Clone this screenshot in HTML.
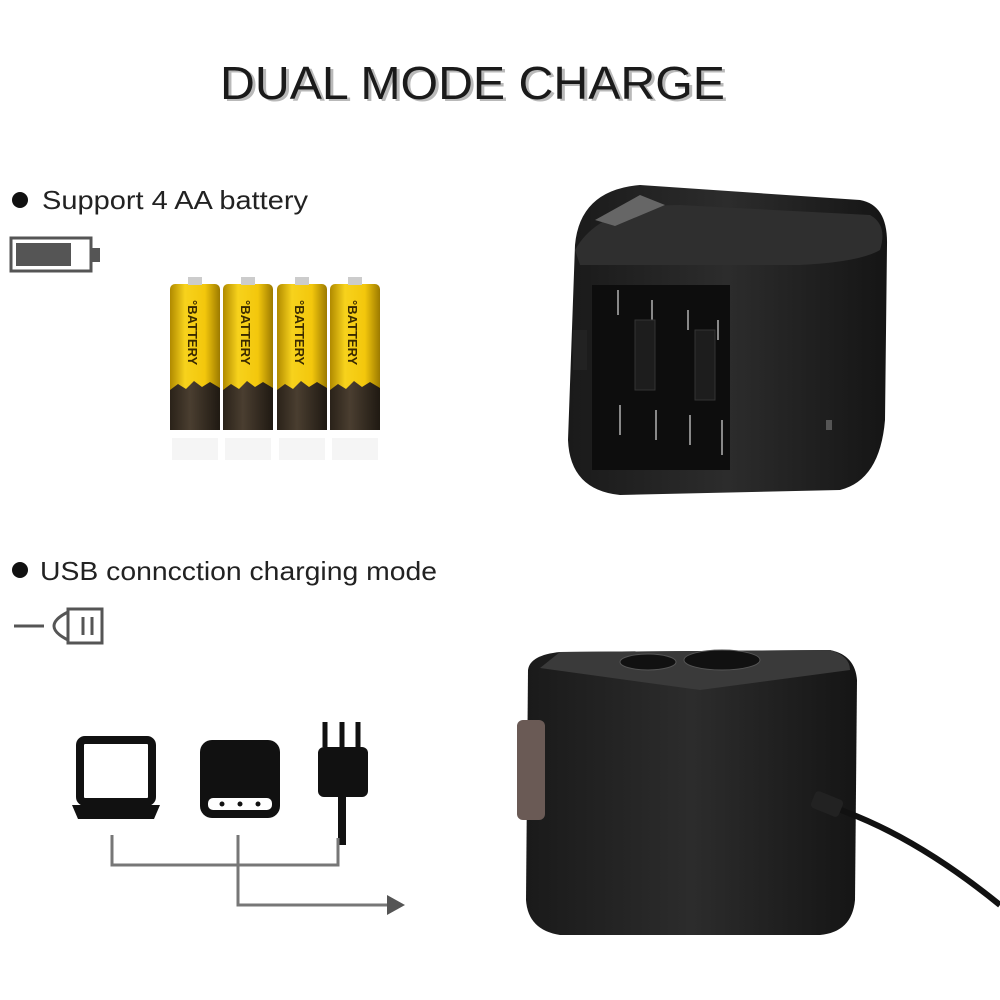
<!DOCTYPE html>
<html><head><meta charset="utf-8"><style>
html,body{margin:0;padding:0;background:#fff;}
svg{display:block}
text{font-family:"Liberation Sans",sans-serif;}
</style></head><body>
<svg width="1000" height="1000" viewBox="0 0 1000 1000" xmlns="http://www.w3.org/2000/svg">
<defs>
<linearGradient id="bat" x1="0" x2="1">
<stop offset="0" stop-color="#b08a00"/><stop offset="0.3" stop-color="#f7d21c"/><stop offset="0.7" stop-color="#f3c70c"/><stop offset="1" stop-color="#9c7a00"/></linearGradient>
<linearGradient id="dark" x1="0" x2="1">
<stop offset="0" stop-color="#2a2219"/><stop offset="0.4" stop-color="#4a3e30"/><stop offset="1" stop-color="#1f1912"/></linearGradient>
<linearGradient id="box" x1="0" x2="1">
<stop offset="0" stop-color="#1a1a1a"/><stop offset="0.5" stop-color="#2c2c2c"/><stop offset="1" stop-color="#151515"/></linearGradient>
</defs>
<text x="223" y="101" font-size="46" fill="#666" opacity="0.45" textLength="505" lengthAdjust="spacingAndGlyphs">DUAL MODE CHARGE</text>
<text x="220" y="99" font-size="46" fill="#1a1a1a" textLength="505" lengthAdjust="spacingAndGlyphs">DUAL MODE CHARGE</text>

<circle cx="20" cy="200" r="8" fill="#111"/>
<text x="42" y="209" font-size="26" fill="#222" textLength="266" lengthAdjust="spacingAndGlyphs">Support 4 AA battery</text>
<rect x="11" y="238" width="80" height="33" fill="none" stroke="#555" stroke-width="3"/>
<rect x="16" y="243" width="55" height="23" fill="#555"/>
<rect x="91" y="248" width="9" height="14" fill="#555"/>

<g>
<g id="b1">
<rect x="170" y="284" width="50" height="146" rx="5" fill="url(#bat)"/>
<path d="M170 390 l8 -6 l8 5 l8 -8 l8 6 l8 -5 l10 6 v42 h-50z" fill="url(#dark)"/>
<rect x="188" y="277" width="14" height="8" fill="#ccc"/>
<text transform="translate(188,300) rotate(90)" font-size="13" font-weight="bold" fill="#3a2a00">°BATTERY</text>
<rect x="172" y="438" width="46" height="22" fill="#eee" opacity="0.6"/>
</g>
<use href="#b1" x="53"/><use href="#b1" x="107"/><use href="#b1" x="160"/>
</g>

<!-- device 1 -->
<path d="M575 245 Q580 190 640 185 L860 200 Q888 205 887 245 L885 420 Q880 480 840 490 L620 495 Q570 490 568 440 Z" fill="url(#box)"/>
<path d="M575 250 Q600 205 680 205 L870 215 Q888 225 880 250 Q860 262 800 265 L580 265 Z" fill="#2f2f2f"/>
<path d="M595 220 L640 195 L665 205 L615 226 Z" fill="#666"/>
<rect x="592" y="285" width="138" height="185" fill="#0d0d0d"/>
<g stroke="#888" stroke-width="2" fill="none">
<path d="M618 290 v25 M652 300 v25 M688 310 v20 M718 320 v20 M620 405 v30 M656 410 v30 M690 415 v30 M722 420 v35"/>
</g>
<rect x="635" y="320" width="20" height="70" fill="#1d1d1d" stroke="#333"/>
<rect x="695" y="330" width="20" height="70" fill="#1d1d1d" stroke="#333"/>
<rect x="573" y="330" width="14" height="40" fill="#222"/>
<rect x="826" y="420" width="6" height="10" fill="#555"/>

<circle cx="20" cy="570" r="8" fill="#111"/>
<text x="40" y="580" font-size="26" fill="#222" textLength="397" lengthAdjust="spacingAndGlyphs">USB conncction charging mode</text>
<g stroke="#555" stroke-width="3" fill="none">
<rect x="68" y="609" width="34" height="34"/><path d="M68 612 Q40 626 68 640"/><path d="M44 626 H14"/>
<path d="M83 617 v18 M92 617 v18"/>
</g>

<!-- icons -->
<rect x="80" y="740" width="72" height="62" rx="5" fill="none" stroke="#111" stroke-width="8"/>
<path d="M72 805 h88 l-6 14 h-76z" fill="#111"/>
<rect x="200" y="740" width="80" height="78" rx="12" fill="#111"/>
<rect x="208" y="798" width="64" height="12" rx="5" fill="#fff"/>
<circle cx="222" cy="804" r="2.5" fill="#111"/><circle cx="240" cy="804" r="2.5" fill="#111"/><circle cx="258" cy="804" r="2.5" fill="#111"/>
<path d="M325 722 v25 M342 722 v25 M358 722 v25" stroke="#111" stroke-width="5"/>
<rect x="318" y="747" width="50" height="50" rx="6" fill="#111"/>
<path d="M342 795 v50" stroke="#111" stroke-width="8"/>
<g stroke="#777" stroke-width="3" fill="none">
<path d="M112 835 V865 H338 V838"/>
<path d="M238 835 V905 H390"/>
</g>
<path d="M405 905 l-18 -10 v20z" fill="#555"/>

<!-- device 2 -->
<path d="M528 670 Q530 655 560 652 L830 650 Q855 655 857 680 L855 900 Q852 932 820 935 L560 935 Q528 930 526 900 Z" fill="url(#box)"/>
<path d="M560 652 L830 650 Q850 656 850 670 L700 690 L540 668 Z" fill="#3a3a3a"/>
<ellipse cx="648" cy="662" rx="28" ry="8" fill="#111" stroke="#555"/>
<ellipse cx="722" cy="660" rx="38" ry="10" fill="#111" stroke="#555"/>
<rect x="517" y="720" width="28" height="100" rx="6" fill="#6a5a55"/>
<path d="M816 800 l30 12 Q920 840 1000 905" stroke="#111" stroke-width="6" fill="none"/>
<rect x="812" y="795" width="30" height="18" rx="4" fill="#222" transform="rotate(22 827 804)"/>
</svg>
</body></html>
